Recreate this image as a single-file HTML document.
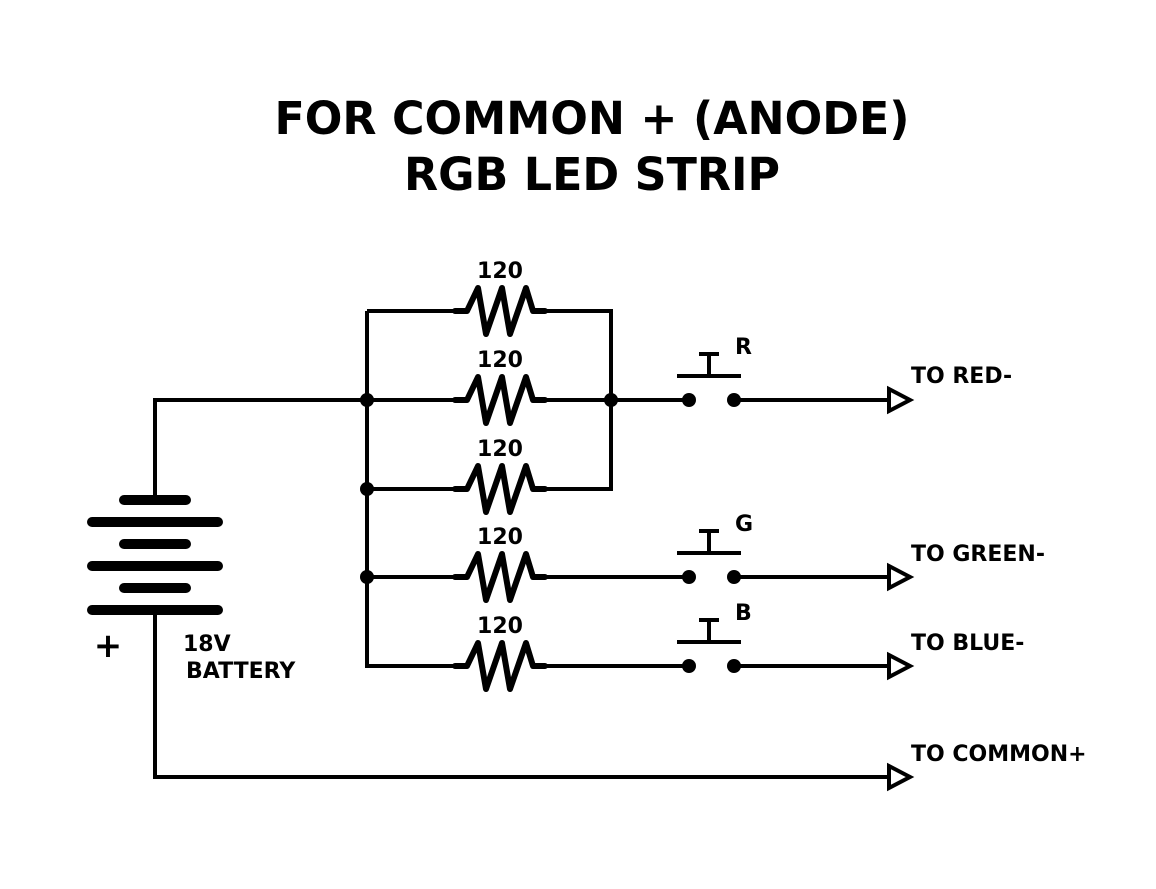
<!DOCTYPE html>
<html><head><meta charset="utf-8"><style>html,body{margin:0;padding:0;background:#fff}svg{display:block}</style></head><body>
<svg width="1156" height="889" viewBox="0 0 1156 889" xmlns="http://www.w3.org/2000/svg" font-family="'DejaVu Sans','Liberation Sans',sans-serif" font-weight="bold">
<rect width="1156" height="889" fill="#fff"/>
<text x="592" y="134" font-size="45" text-anchor="middle" textLength="635" lengthAdjust="spacingAndGlyphs">FOR COMMON + (ANODE)</text>
<text x="592" y="190" font-size="45" text-anchor="middle" textLength="376" lengthAdjust="spacingAndGlyphs">RGB LED STRIP</text>
<defs>
<path id="res" d="M455,0 L467,0 L478,-23 L486,23 L502,-23 L510,23 L526,-23 L533,0 L545,0" fill="none" stroke="#000" stroke-width="6" stroke-linejoin="round" stroke-linecap="round"/>
<g id="sw">
<circle cx="689" cy="0" r="7"/><circle cx="734" cy="0" r="7"/>
<path d="M677,-24 H741 M709,-24 V-46 M699,-46 H719" stroke="#000" stroke-width="4" fill="none"/>
</g>
<path id="arr" d="M889,-11 L910,0 L889,11 Z" fill="#fff" stroke="#000" stroke-width="4"/>
</defs>
<g stroke="#000" stroke-width="4" fill="none">
<path d="M155,500 V400 H455"/>
<path d="M367,311 V666 H455"/>
<path d="M367,311 H455"/>
<path d="M545,311 H611 V489 H545"/>
<path d="M545,400 H689"/>
<path d="M734,400 H889"/>
<path d="M367,489 H455"/>
<path d="M367,577 H455 M545,577 H689 M734,577 H889"/>
<path d="M545,666 H689 M734,666 H889"/>
<path d="M155,610 V777 H889"/>
</g>
<use href="#res" transform="translate(0,311)"/>
<use href="#res" transform="translate(0,400)"/>
<use href="#res" transform="translate(0,489)"/>
<use href="#res" transform="translate(0,577)"/>
<use href="#res" transform="translate(0,666)"/>
<use href="#sw" transform="translate(0,400)"/>
<use href="#sw" transform="translate(0,577)"/>
<use href="#sw" transform="translate(0,666)"/>
<use href="#arr" transform="translate(0,400)"/>
<use href="#arr" transform="translate(0,577)"/>
<use href="#arr" transform="translate(0,666)"/>
<use href="#arr" transform="translate(0,777)"/>
<g fill="#000">
<circle cx="367" cy="400" r="7"/><circle cx="611" cy="400" r="7"/>
<circle cx="367" cy="489" r="7"/><circle cx="367" cy="577" r="7"/>
</g>
<g stroke="#000" stroke-width="10" stroke-linecap="round">
<path d="M124,500 H186 M92,522 H218 M124,544 H186 M92,566 H218 M124,588 H186 M92,610 H218"/>
</g>
<g font-size="22">
<text x="500" y="278" text-anchor="middle">120</text>
<text x="500" y="367" text-anchor="middle">120</text>
<text x="500" y="456" text-anchor="middle">120</text>
<text x="500" y="544" text-anchor="middle">120</text>
<text x="500" y="633" text-anchor="middle">120</text>
<text x="735" y="354">R</text>
<text x="735" y="531">G</text>
<text x="735" y="620">B</text>
<text x="911" y="383">TO RED-</text>
<text x="911" y="561">TO GREEN-</text>
<text x="911" y="650">TO BLUE-</text>
<text x="911" y="761">TO COMMON+</text>
<text x="183" y="651">18V</text>
<text x="186" y="678">BATTERY</text>
</g>
<text x="108" y="657" font-size="34" text-anchor="middle">+</text>
</svg>
</body></html>
